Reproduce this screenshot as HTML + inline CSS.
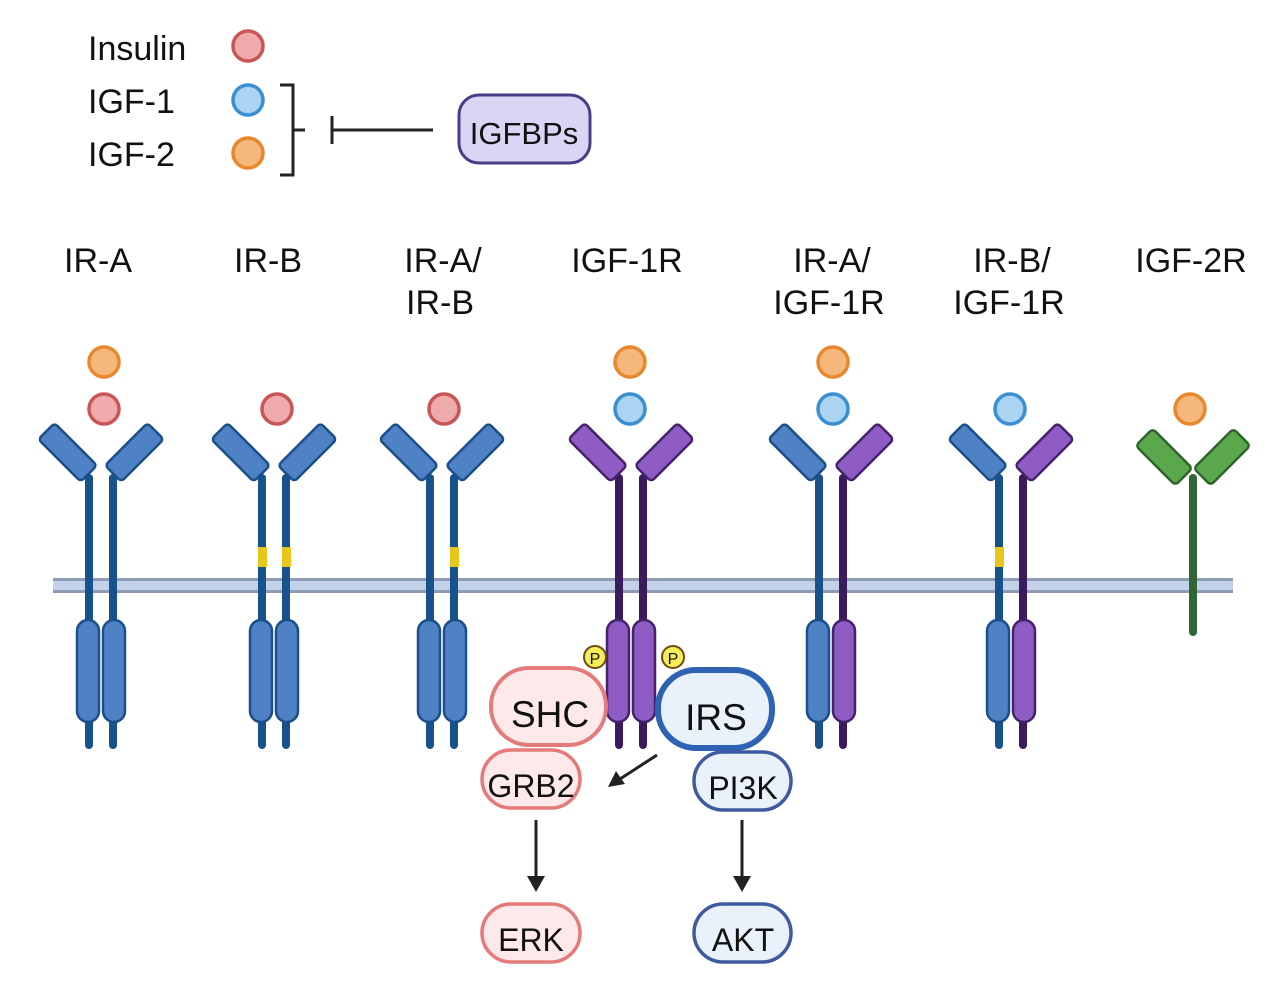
<!DOCTYPE html>
<html><head><meta charset="utf-8"><style>
html,body{margin:0;padding:0;background:#fff;}
svg{display:block;}
text{font-family:"Liberation Sans",sans-serif;fill:#111;}
</style></head><body>
<svg width="1267" height="982" viewBox="0 0 1267 982" xmlns="http://www.w3.org/2000/svg">
<defs>
<g id="bl">
 <path d="M-12 478 V745" stroke="#17528c" stroke-width="8" stroke-linecap="round" fill="none"/>
 <rect x="-63" y="441" width="60" height="23" rx="4" fill="#4f81c5" stroke="#1a4f8a" stroke-width="2.5" transform="rotate(45 -33 452)"/>
 <rect x="-24" y="620" width="22" height="102" rx="11" fill="#4f81c5" stroke="#1a4f8a" stroke-width="2.5"/>
</g>
<g id="br">
 <path d="M12 478 V745" stroke="#17528c" stroke-width="8" stroke-linecap="round" fill="none"/>
 <rect x="3" y="441" width="60" height="23" rx="4" fill="#4f81c5" stroke="#1a4f8a" stroke-width="2.5" transform="rotate(-45 33 452)"/>
 <rect x="2" y="620" width="22" height="102" rx="11" fill="#4f81c5" stroke="#1a4f8a" stroke-width="2.5"/>
</g>
<g id="pl">
 <path d="M-12 478 V745" stroke="#3b1b5e" stroke-width="8" stroke-linecap="round" fill="none"/>
 <rect x="-63" y="441" width="60" height="23" rx="4" fill="#8f5cc4" stroke="#45226c" stroke-width="2.5" transform="rotate(45 -33 452)"/>
 <rect x="-24" y="620" width="22" height="102" rx="11" fill="#8f5cc4" stroke="#45226c" stroke-width="2.5"/>
</g>
<g id="pr">
 <path d="M12 478 V745" stroke="#3b1b5e" stroke-width="8" stroke-linecap="round" fill="none"/>
 <rect x="3" y="441" width="60" height="23" rx="4" fill="#8f5cc4" stroke="#45226c" stroke-width="2.5" transform="rotate(-45 33 452)"/>
 <rect x="2" y="620" width="22" height="102" rx="11" fill="#8f5cc4" stroke="#45226c" stroke-width="2.5"/>
</g>
<circle id="ins" r="15" fill="#efabab" stroke="#c95656" stroke-width="3.5"/>
<circle id="i1" r="15" fill="#aad4f1" stroke="#3a8ed2" stroke-width="3.5"/>
<circle id="i2" r="15" fill="#f6b77c" stroke="#e8882e" stroke-width="3.5"/>
</defs>

<text x="88" y="60" font-size="34">Insulin</text>
<text x="88" y="113" font-size="34">IGF-1</text>
<text x="88" y="166" font-size="34">IGF-2</text>
<use href="#ins" x="248" y="46"/>
<use href="#i1" x="248" y="100"/>
<use href="#i2" x="248" y="153"/>
<path d="M280 85 H293 V175 H280 M293 130 H305" stroke="#222" stroke-width="3" fill="none"/>
<path d="M332 116 V144 M332 130 H433" stroke="#222" stroke-width="3" fill="none"/>
<rect x="459" y="95" width="131" height="68" rx="20" fill="#d9d6f5" stroke="#463d86" stroke-width="3"/>
<text x="524" y="144" font-size="31" text-anchor="middle">IGFBPs</text>

<g font-size="34" text-anchor="middle">
<text x="98" y="272">IR-A</text>
<text x="268" y="272">IR-B</text>
<text x="443" y="272">IR-A/</text><text x="440" y="314">IR-B</text>
<text x="627" y="272">IGF-1R</text>
<text x="832" y="272">IR-A/</text><text x="829" y="314">IGF-1R</text>
<text x="1012" y="272">IR-B/</text><text x="1009" y="314">IGF-1R</text>
<text x="1191" y="272">IGF-2R</text>
</g>

<rect x="53" y="578" width="1180" height="15" fill="#c3d2e8"/>
<rect x="53" y="578" width="1180" height="3" fill="#8e9bb2"/>
<rect x="53" y="590" width="1180" height="3" fill="#8e9bb2"/>

<use href="#bl" x="101"/><use href="#br" x="101"/>
<use href="#bl" x="274"/><use href="#br" x="274"/>
<use href="#bl" x="442"/><use href="#br" x="442"/>
<use href="#pl" x="631"/><use href="#pr" x="631"/>
<use href="#bl" x="831"/><use href="#pr" x="831"/>
<use href="#bl" x="1011"/><use href="#pr" x="1011"/>
<rect x="258" y="547" width="9" height="20" fill="#e8c61a"/>
<rect x="282" y="547" width="9" height="20" fill="#e8c61a"/>
<rect x="450" y="547" width="9" height="20" fill="#e8c61a"/>
<rect x="995" y="547" width="9" height="20" fill="#e8c61a"/>

<path d="M1193 478 V632" stroke="#2f6634" stroke-width="8" stroke-linecap="round"/>
<rect x="1136" y="445" width="56" height="24" rx="4" fill="#5aa84b" stroke="#2d652a" stroke-width="2.5" transform="rotate(45 1164 457)"/>
<rect x="1194" y="445" width="56" height="24" rx="4" fill="#5aa84b" stroke="#2d652a" stroke-width="2.5" transform="rotate(-45 1222 457)"/>

<use href="#i2" x="104" y="362"/><use href="#ins" x="104" y="409"/>
<use href="#ins" x="277" y="409"/>
<use href="#ins" x="444" y="409"/>
<use href="#i2" x="630" y="362"/><use href="#i1" x="630" y="409"/>
<use href="#i2" x="833" y="362"/><use href="#i1" x="833" y="409"/>
<use href="#i1" x="1010" y="409"/>
<use href="#i2" x="1190" y="409"/>

<circle cx="595" cy="657" r="11" fill="#f5ee55" stroke="#6b4a1a" stroke-width="2"/>
<text x="595" y="664" font-size="16" text-anchor="middle">P</text>
<circle cx="673" cy="657" r="11" fill="#f5ee55" stroke="#6b4a1a" stroke-width="2"/>
<text x="673" y="664" font-size="16" text-anchor="middle">P</text>

<rect x="491" y="668" width="115" height="77" rx="38" fill="#fde9e9" stroke="#e47a7a" stroke-width="4"/>
<text x="550" y="727" font-size="37" text-anchor="middle">SHC</text>
<rect x="658" y="670" width="114" height="78" rx="38" fill="#e9f1fb" stroke="#2e63b3" stroke-width="6"/>
<text x="716" y="730" font-size="37" text-anchor="middle">IRS</text>
<rect x="482" y="750" width="98" height="58" rx="29" fill="#fde9e9" stroke="#e47a7a" stroke-width="3.5"/>
<text x="531" y="797" font-size="32" text-anchor="middle">GRB2</text>
<rect x="694" y="752" width="97" height="58" rx="29" fill="#e9f1fb" stroke="#3f5aa0" stroke-width="3.5"/>
<text x="743" y="799" font-size="32" text-anchor="middle">PI3K</text>
<rect x="482" y="904" width="98" height="58" rx="29" fill="#fde9e9" stroke="#e47a7a" stroke-width="3.5"/>
<text x="531" y="951" font-size="32" text-anchor="middle">ERK</text>
<rect x="694" y="904" width="97" height="58" rx="29" fill="#e9f1fb" stroke="#3f5aa0" stroke-width="3.5"/>
<text x="743" y="951" font-size="32" text-anchor="middle">AKT</text>

<path d="M536 820 V878" stroke="#222" stroke-width="3"/>
<path d="M527 876 L545 876 L536 892 Z" fill="#222"/>
<path d="M742 820 V878" stroke="#222" stroke-width="3"/>
<path d="M733 876 L751 876 L742 892 Z" fill="#222"/>
<path d="M657 755 L620 779" stroke="#222" stroke-width="3"/>
<path d="M608 787 L616 771 L625 784 Z" fill="#222"/>
</svg>
</body></html>
